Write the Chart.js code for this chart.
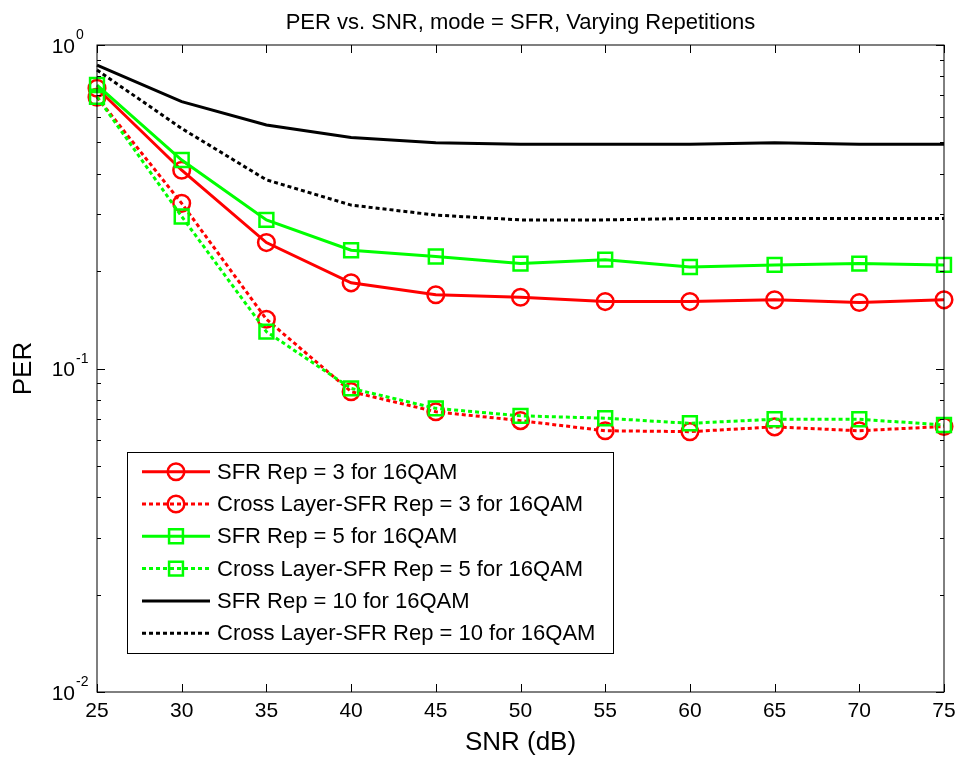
<!DOCTYPE html>
<html>
<head>
  <title>PER vs. SNR</title>
  <script src="https://cdn.jsdelivr.net/npm/chart.js"></script>
  <style>
    html, body { margin: 0; padding: 0; background: #fff; }
    #wrap { width: 959px; height: 762px; }
  </style>
</head>
<body>
  <div id="wrap"><canvas id="perChart" width="959" height="762"></canvas></div>

  <script>
    // values
    const snr = [25, 30, 35, 40, 45, 50, 55, 60, 65, 70, 75];
    const sfrRep3 = [0.735, 0.41, 0.245, 0.184, 0.169, 0.166, 0.161, 0.161, 0.163, 0.160, 0.163];
    const crossRep3 = [0.69, 0.324, 0.142, 0.0848, 0.0735, 0.069, 0.0642, 0.0638, 0.066, 0.0642, 0.0662];
    const sfrRep5 = [0.752, 0.441, 0.288, 0.232, 0.222, 0.211, 0.217, 0.206, 0.209, 0.211, 0.209];
    const crossRep5 = [0.692, 0.295, 0.130, 0.0868, 0.0753, 0.0714, 0.0702, 0.0677, 0.0697, 0.0697, 0.0669];
    const sfrRep10 = [0.867, 0.668, 0.566, 0.518, 0.499, 0.493, 0.493, 0.493, 0.499, 0.493, 0.493];
    const crossRep10 = [0.837, 0.552, 0.383, 0.320, 0.298, 0.288, 0.288, 0.291, 0.291, 0.291, 0.291];
    const seriesLabels = [
      'SFR Rep = 3 for 16QAM',
      'Cross Layer-SFR Rep = 3 for 16QAM',
      'SFR Rep = 5 for 16QAM',
      'Cross Layer-SFR Rep = 5 for 16QAM',
      'SFR Rep = 10 for 16QAM',
      'Cross Layer-SFR Rep = 10 for 16QAM'
    ];
    const decades = [0.01, 0.1, 1];
    const decadeExp = ['-2', '-1', '0'];

    const FONT = '"Liberation Sans", Arial, Helvetica, sans-serif';
    const DOT = [4, 3];

    const pts = ys => snr.map((x, i) => ({ x: x, y: ys[i] }));

    function ds(i, ys, color, dotted, marker, radius) {
      return {
        label: seriesLabels[i],
        data: pts(ys),
        borderColor: color,
        backgroundColor: 'transparent',
        borderWidth: 3,
        borderDash: dotted ? DOT : [],
        pointStyle: marker || false,
        pointRadius: marker ? radius : 0,
        pointBorderWidth: 2.5,
        pointBorderColor: color,
        pointBackgroundColor: 'transparent',
        tension: 0,
        clip: false,
        order: 6 - i
      };
    }

    // axes box, inward ticks, superscript y labels, legend
    const matlabAxes = {
      id: 'matlabAxes',
      afterDatasetsDraw(chart) {
        const { ctx, chartArea: a, scales } = chart;
        const xs = scales.x, ys = scales.y;
        ctx.save();
        ctx.strokeStyle = '#000';
        ctx.lineWidth = 1;
        ctx.setLineDash([]);
        ctx.strokeRect(a.left, a.top, a.right - a.left, a.bottom - a.top);

        ctx.beginPath();
        snr.forEach(v => {
          if (v % 5) return;
          const px = Math.round(xs.getPixelForValue(v)) + 0.5;
          ctx.moveTo(px, a.bottom); ctx.lineTo(px, a.bottom - 8);
          ctx.moveTo(px, a.top); ctx.lineTo(px, a.top + 8);
        });
        for (let d = 0; d < decades.length; d++) {
          const py = Math.round(ys.getPixelForValue(decades[d])) + 0.5;
          ctx.moveTo(a.left, py); ctx.lineTo(a.left + 8, py);
          ctx.moveTo(a.right, py); ctx.lineTo(a.right - 8, py);
          if (d < decades.length - 1) {
            for (let m = 2; m <= 9; m++) {
              const my = Math.round(ys.getPixelForValue(decades[d] * m)) + 0.5;
              ctx.moveTo(a.left, my); ctx.lineTo(a.left + 4, my);
              ctx.moveTo(a.right, my); ctx.lineTo(a.right - 4, my);
            }
          }
        }
        ctx.stroke();

        ctx.fillStyle = '#000';
        decades.forEach((v, d) => {
          const py = ys.getPixelForValue(v);
          ctx.font = '21px ' + FONT;
          ctx.textAlign = 'right';
          ctx.textBaseline = 'alphabetic';
          ctx.fillText('10', a.left - 22, py + 7.5);
          ctx.font = '14px ' + FONT;
          ctx.textAlign = 'left';
          ctx.fillText(decadeExp[d], a.left - 21, py - 6);
        });

        // legend
        const lx = 127, ly = 452, lw = 486, lh = 201;
        ctx.fillStyle = '#fff';
        ctx.fillRect(lx, ly, lw, lh);
        ctx.strokeRect(lx + 0.5, ly + 0.5, lw, lh);
        chart.data.datasets.forEach((d, i) => {
          const cy = 471.7 + i * 32.3;
          ctx.strokeStyle = d.borderColor;
          ctx.lineWidth = 3;
          ctx.setLineDash(d.borderDash);
          ctx.beginPath();
          ctx.moveTo(142, cy); ctx.lineTo(210, cy);
          ctx.stroke();
          ctx.setLineDash([]);
          if (d.pointStyle) {
            ctx.lineWidth = 2.5;
            ctx.beginPath();
            if (d.pointStyle === 'circle') {
              ctx.arc(176, cy, d.pointRadius, 0, Math.PI * 2);
            } else {
              const s = d.pointRadius * Math.SQRT1_2;
              ctx.rect(176 - s, cy - s, 2 * s, 2 * s);
            }
            ctx.stroke();
          }
          ctx.fillStyle = '#000';
          ctx.font = '22px ' + FONT;
          ctx.textAlign = 'left';
          ctx.textBaseline = 'middle';
          ctx.fillText(d.label, 217, cy + 1);
        });
        ctx.restore();
      }
    };

    new Chart(document.getElementById('perChart'), {
      type: 'line',
      data: {
        datasets: [
          ds(0, sfrRep3, '#ff0000', false, 'circle', 8.3),
          ds(1, crossRep3, '#ff0000', true, 'circle', 8.3),
          ds(2, sfrRep5, '#00ff00', false, 'rect', 9.8),
          ds(3, crossRep5, '#00ff00', true, 'rect', 9.8),
          ds(4, sfrRep10, '#000000', false, null, 0),
          ds(5, crossRep10, '#000000', true, null, 0)
        ]
      },
      options: {
        responsive: false,
        animation: false,
        events: [],
        layout: { padding: { top: 0, left: 0, right: 15, bottom: 0 } },
        plugins: {
          legend: { display: false },
          tooltip: { enabled: false },
          title: {
            display: true,
            fullSize: false,
            text: 'PER vs. SNR, mode = SFR, Varying Repetitions',
            color: '#000',
            font: { family: FONT, size: 22, weight: 'normal' },
            padding: { top: 10, bottom: 8.6 }
          }
        },
        scales: {
          x: {
            type: 'linear',
            min: 25,
            max: 75,
            grid: { display: false, drawTicks: false },
            border: { display: false },
            ticks: { stepSize: 5, color: '#000', padding: 7, maxRotation: 0,
                     font: { family: FONT, size: 21 } },
            title: { display: true, text: 'SNR (dB)', color: '#000',
                     font: { family: FONT, size: 26 }, padding: { top: 0, bottom: 4 } },
            afterFit: s => { s.height = 70; s.paddingLeft = 0; s.paddingRight = 0; }
          },
          y: {
            type: 'logarithmic',
            min: 0.01,
            max: 1,
            grid: { display: false, drawTicks: false },
            border: { display: false },
            ticks: { display: false },
            title: { display: true, text: 'PER', color: '#000',
                     font: { family: FONT, size: 26 }, padding: { top: 8, bottom: 0 } },
            afterFit: s => { s.width = 97; s.paddingTop = 0; s.paddingBottom = 0; }
          }
        }
      },
      plugins: [matlabAxes]
    });
  </script>
</body>
</html>
